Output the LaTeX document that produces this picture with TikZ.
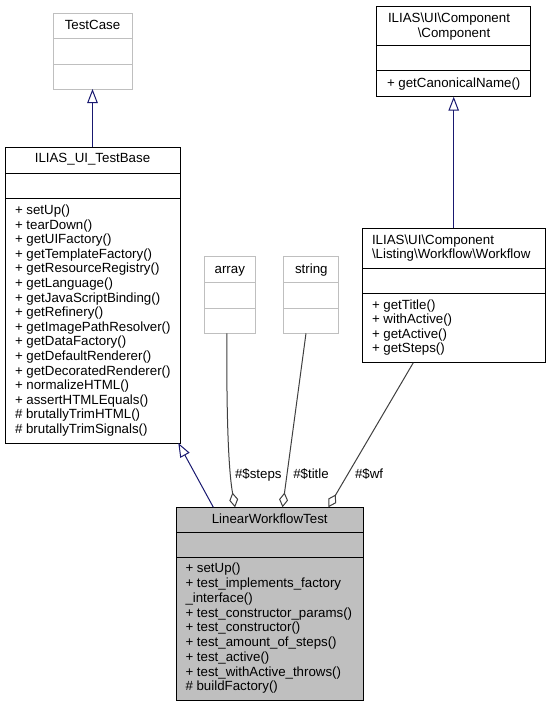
\documentclass[tikz,border=0pt]{standalone}
\usepackage{fontspec}
\setmainfont{Liberation Sans}
\usetikzlibrary{arrows.meta,calc}
\definecolor{navyline}{HTML}{191970}
\definecolor{boxgray}{HTML}{BFBFBF}
\definecolor{aggline}{HTML}{404040}
\newcommand{\bs}{\textbackslash}
\begin{document}
\begin{tikzpicture}[x=1pt,y=-1pt,
  every node/.style={inner sep=0pt, outer sep=0pt, font=\fontsize{13.3pt}{14.6pt}\selectfont},
  umlbox/.style={draw=black, line width=1pt, rectangle},
  greybox/.style={draw=boxgray, line width=1pt, rectangle},
  divline/.style={line width=1pt},
  mt/.style={anchor=base west},
  tt/.style={anchor=base},
  inh/.style={draw=navyline, line width=1pt, -{Triangle[open,length=14pt,width=10.5pt]}},
  agg/.style={draw=aggline, line width=1pt, -{Diamond[open,length=15pt,width=9pt]}}]
\useasboundingbox (0,0) rectangle (551,707);
\fill[white] (0,0) rectangle (551,707);

% TestCase
\node[greybox, minimum width=79pt, minimum height=76pt] (tc) at (92.5,51) {};
\draw[divline, boxgray] ($(tc.north west)+(0,25)$) -- ($(tc.north east)+(0,25)$);
\draw[divline, boxgray] ($(tc.north west)+(0,51)$) -- ($(tc.north east)+(0,51)$);
\node[tt] (tct) at (92.5,29.5) {TestCase};

% ILIAS_UI_TestBase
\node[umlbox, minimum width=175pt, minimum height=296pt] (tb) at (92.5,295) {};
\draw[divline] ($(tb.north west)+(0,26)$) -- ($(tb.north east)+(0,26)$);
\draw[divline] ($(tb.north west)+(0,51)$) -- ($(tb.north east)+(0,51)$);
\node[tt] (tbt) at (92.5,162.8) {ILIAS\_UI\_TestBase};
\foreach \t [count=\i from 0] in {+ setUp(), + tearDown(), + getUIFactory(), + getTemplateFactory(), + getResourceRegistry(), + getLanguage(), + getJavaScriptBinding(), + getRefinery(), + getImagePathResolver(), + getDataFactory(), + getDefaultRenderer(), + getDecoratedRenderer(), + normalizeHTML(), + assertHTMLEquals(), \# brutallyTrimHTML(), \# brutallyTrimSignals()}
  \node[mt] (tbm\i) at (15,214.5+\i*14.6) {\t};

% array
\node[greybox, minimum width=51pt, minimum height=76.6pt] (arr) at (229.8,295) {};
\draw[divline, boxgray] ($(arr.north west)+(0,25.6)$) -- ($(arr.north east)+(0,25.6)$);
\draw[divline, boxgray] ($(arr.north west)+(0,51.3)$) -- ($(arr.north east)+(0,51.3)$);
\node[tt] (arrt) at (229.8,273.5) {array};

% string
\node[greybox, minimum width=54.7pt, minimum height=76.6pt] (str) at (311.3,295) {};
\draw[divline, boxgray] ($(str.north west)+(0,25.6)$) -- ($(str.north east)+(0,25.6)$);
\draw[divline, boxgray] ($(str.north west)+(0,51.3)$) -- ($(str.north east)+(0,51.3)$);
\node[tt] (strt) at (311.3,273.5) {string};

% Component
\node[umlbox, minimum width=154pt, minimum height=90.7pt] (cmp) at (453.7,51.35) {};
\draw[divline] ($(cmp.north west)+(0,39.7)$) -- ($(cmp.north east)+(0,39.7)$);
\draw[divline] ($(cmp.north west)+(0,64.7)$) -- ($(cmp.north east)+(0,64.7)$);
\node[mt] (cmpt1) at (388,22.8) {ILIAS\bs UI\bs Component};
\node[tt] (cmpt2) at (454,37.5) {\bs Component};
\node[mt] (cmpm) at (387,87.2) {+ getCanonicalName()};

% Workflow
\node[umlbox, minimum width=183pt, minimum height=134.4pt] (wf) at (453.8,295.5) {};
\draw[divline] ($(wf.north west)+(0,40)$) -- ($(wf.north east)+(0,40)$);
\draw[divline] ($(wf.north west)+(0,65)$) -- ($(wf.north east)+(0,65)$);
\node[mt] (wft1) at (372,244.5) {ILIAS\bs UI\bs Component};
\node[mt] (wft2) at (372,258.8) {\bs Listing\bs Workflow\bs Workflow};
\foreach \t [count=\i from 0] in {+ getTitle(), + withActive(), + getActive(), + getSteps()}
  \node[mt] (wfm\i) at (372,309.5+\i*14.4) {\t};

% LinearWorkflowTest
\node[umlbox, fill=boxgray, minimum width=187.3pt, minimum height=192.7pt] (lwt) at (269.7,603.65) {};
\draw[divline] ($(lwt.north west)+(0,25)$) -- ($(lwt.north east)+(0,25)$);
\draw[divline] ($(lwt.north west)+(0,50.4)$) -- ($(lwt.north east)+(0,50.4)$);
\node[tt] (lwtt) at (269.7,523.5) {LinearWorkflowTest};
\foreach \t [count=\i from 0] in {+ setUp(), + test\_implements\_factory, \_interface(), + test\_constructor\_params(), + test\_constructor(), + test\_amount\_of\_steps(), + test\_active(), + test\_withActive\_throws(), \# buildFactory()}
  \node[mt] (lwtm\i) at (185.5,572.8+\i*14.75) {\t};

% inheritance
\draw[inh] (tb.north) -- (tc.south);
\draw[inh] (cmp.south |- wf.north) -- (cmp.south);
\draw[inh] ($(lwt.north west)+(37.3,0)$) -- ($(tb.south east)+(-1.7,0)$);

% aggregation
\draw[agg] ($(arr.south)+(-3,0)$) .. controls (226.5,420) and (228.5,470) .. ($(lwt.north west)+(59,0)$);
\draw[agg] ($(str.south)+(-5.3,0)$) -- ($(lwt.north west)+(106.5,0)$);
\draw[agg] ($(wf.south)+(-40.5,0)$) -- ($(lwt.north west)+(152.3,0)$);

% labels
\node[mt] (lsteps) at (235,478.8) {\#\$steps};
\node[mt] (ltitle) at (293.3,478.8) {\#\$title};
\node[mt] (lwf) at (355,478.8) {\#\$wf};
\end{tikzpicture}
\end{document}
